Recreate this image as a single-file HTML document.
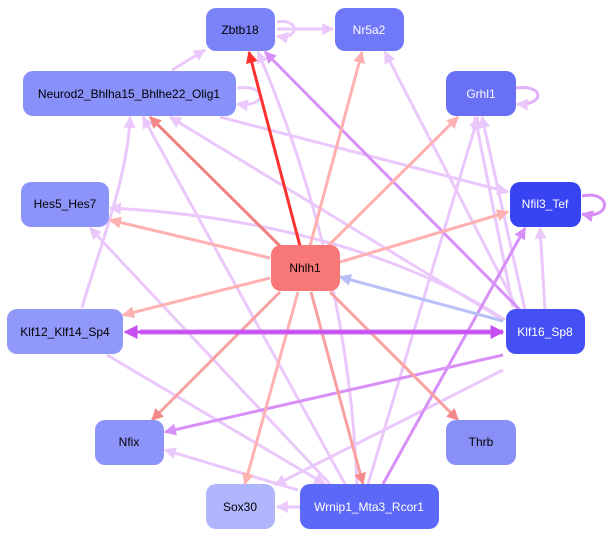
<!DOCTYPE html>
<html><head><meta charset="utf-8"><style>
html,body{margin:0;padding:0;background:#fff;}
svg{display:block;font-family:"Liberation Sans",sans-serif;}
</style></head><body>
<svg width="609" height="536" viewBox="0 0 609 536" xmlns="http://www.w3.org/2000/svg">
<defs>
<marker id="mL" viewBox="0 0 10 10" refX="9" refY="5" markerWidth="13" markerHeight="12" markerUnits="userSpaceOnUse" orient="auto"><path d="M0,0L10,5L0,10z" fill="#ebc8fc"/></marker>
<marker id="mP" viewBox="0 0 10 10" refX="9" refY="5" markerWidth="13" markerHeight="12" markerUnits="userSpaceOnUse" orient="auto"><path d="M0,0L10,5L0,10z" fill="#d890f8"/></marker>
<marker id="mV" viewBox="0 0 10 10" refX="9" refY="5" markerWidth="14" markerHeight="14" markerUnits="userSpaceOnUse" orient="auto"><path d="M0,0L10,5L0,10z" fill="#c850f0"/></marker>
<marker id="mR" viewBox="0 0 10 10" refX="9" refY="5" markerWidth="13" markerHeight="12" markerUnits="userSpaceOnUse" orient="auto"><path d="M0,0L10,5L0,10z" fill="#ffb0b0"/></marker>
<marker id="mR2" viewBox="0 0 10 10" refX="9" refY="5" markerWidth="13" markerHeight="12" markerUnits="userSpaceOnUse" orient="auto"><path d="M0,0L10,5L0,10z" fill="#f58888"/></marker>
<marker id="mRR" viewBox="0 0 10 10" refX="9" refY="5" markerWidth="13" markerHeight="12" markerUnits="userSpaceOnUse" orient="auto"><path d="M0,0L10,5L0,10z" fill="#ff3030"/></marker>
<marker id="mB" viewBox="0 0 10 10" refX="9" refY="5" markerWidth="13" markerHeight="12" markerUnits="userSpaceOnUse" orient="auto"><path d="M0,0L10,5L0,10z" fill="#b8c0f8"/></marker>
</defs>
<g fill="none" stroke-width="3">
<g stroke="#ebc8fc" marker-end="url(#mL)">
<path d="M172,70L205,50"/>
<path d="M277,29L333,29"/>
<path d="M277,22C300,18 300,40 277,36"/>
<path d="M237,88C268,84 268,108 237,104"/>
<path d="M220,117L508,192"/>
<path d="M82,308C95,260 128,180 130,117"/>
<path d="M345,484L143,117"/>
<path d="M500,318L170,117"/>
<path d="M357,484C350,300 300,150 258,52"/>
<path d="M518,310L385,52"/>
<path d="M525,310L482,117"/>
<path d="M368,484L478,117"/>
<path d="M505,320C400,250 250,215 110,208"/>
<path d="M330,484L90,228"/>
<path d="M503,370L275,485"/>
<path d="M298,490L165,450"/>
<path d="M107,355L325,484"/>
<path d="M300,507L277,507"/>
<path d="M513,307L475,117"/>
<path d="M545,309L540,228"/>
</g>
<path d="M516,88C545,84 545,106 517,104" stroke="#e0b0f8" marker-end="url(#mL)"/>
<g stroke="#d890f8" marker-end="url(#mP)">
<path d="M520,310L265,52"/>
<path d="M383,484L525,228"/>
<path d="M503,355L165,432"/>
<path d="M582,196C612,190 612,220 582,214"/>
</g>
<g stroke="#ffb0b0" marker-end="url(#mR)">
<path d="M310,246L362,52"/>
<path d="M328,246L458,117"/>
<path d="M270,258L110,220"/>
<path d="M340,262L508,212"/>
<path d="M270,278L123,315"/>
<path d="M298,292L245,484"/>
</g>
<g stroke="#f9a0a0" marker-end="url(#mR2)">
<path d="M280,292L152,420"/>
<path d="M311,292L363,484"/>
<path d="M330,292L458,420"/>
</g>
<path d="M280,246L150,117" stroke="#f08080" marker-end="url(#mR2)"/>
<path d="M300,246L249,52" stroke="#ff3030" marker-end="url(#mRR)"/>
<path d="M503,321L340,277" stroke="#b8c0f8" marker-end="url(#mB)"/>
<path d="M140,332L503,332" stroke="#d070f0" stroke-width="5" marker-end="url(#mV)"/>
<path d="M490,332L125,332" stroke="#c850f0" stroke-width="3" marker-end="url(#mV)"/>
</g>
<g font-size="12" text-anchor="middle" dominant-baseline="central">
<rect x="206" y="8" width="69" height="43" rx="10" fill="#7b83f8"/><text x="240" y="30" fill="#000">Zbtb18</text>
<rect x="335" y="8" width="69" height="43" rx="10" fill="#7078fa"/><text x="369" y="30" fill="#fff">Nr5a2</text>
<rect x="23" y="71" width="213" height="45" rx="10" fill="#8890fa"/><text x="129" y="94" fill="#000">Neurod2_Bhlha15_Bhlhe22_Olig1</text>
<rect x="446" y="71" width="70" height="45" rx="10" fill="#6870f6"/><text x="481" y="94" fill="#fff">Grhl1</text>
<rect x="21" y="182" width="88" height="45" rx="10" fill="#8c94fa"/><text x="65" y="204" fill="#000">Hes5_Hes7</text>
<rect x="510" y="182" width="71" height="45" rx="10" fill="#3844f4"/><text x="545" y="204" fill="#fff">Nfil3_Tef</text>
<rect x="271" y="245" width="69" height="46" rx="10" fill="#f87878"/><text x="305" y="268" fill="#000">Nhlh1</text>
<rect x="7" y="309" width="116" height="45" rx="10" fill="#9098fa"/><text x="65" y="332" fill="#000">Klf12_Klf14_Sp4</text>
<rect x="506" y="309" width="79" height="45" rx="10" fill="#4450f4"/><text x="545" y="332" fill="#fff">Klf16_Sp8</text>
<rect x="95" y="420" width="69" height="45" rx="10" fill="#8c94fa"/><text x="129" y="442" fill="#000">Nfix</text>
<rect x="446" y="420" width="70" height="45" rx="10" fill="#8890f8"/><text x="481" y="442" fill="#000">Thrb</text>
<rect x="206" y="484" width="69" height="45" rx="10" fill="#b0b6fc"/><text x="240" y="507" fill="#000">Sox30</text>
<rect x="300" y="484" width="139" height="45" rx="10" fill="#5c68f8"/><text x="369" y="507" fill="#fff">Wrnip1_Mta3_Rcor1</text>
</g>
</svg>
</body></html>
